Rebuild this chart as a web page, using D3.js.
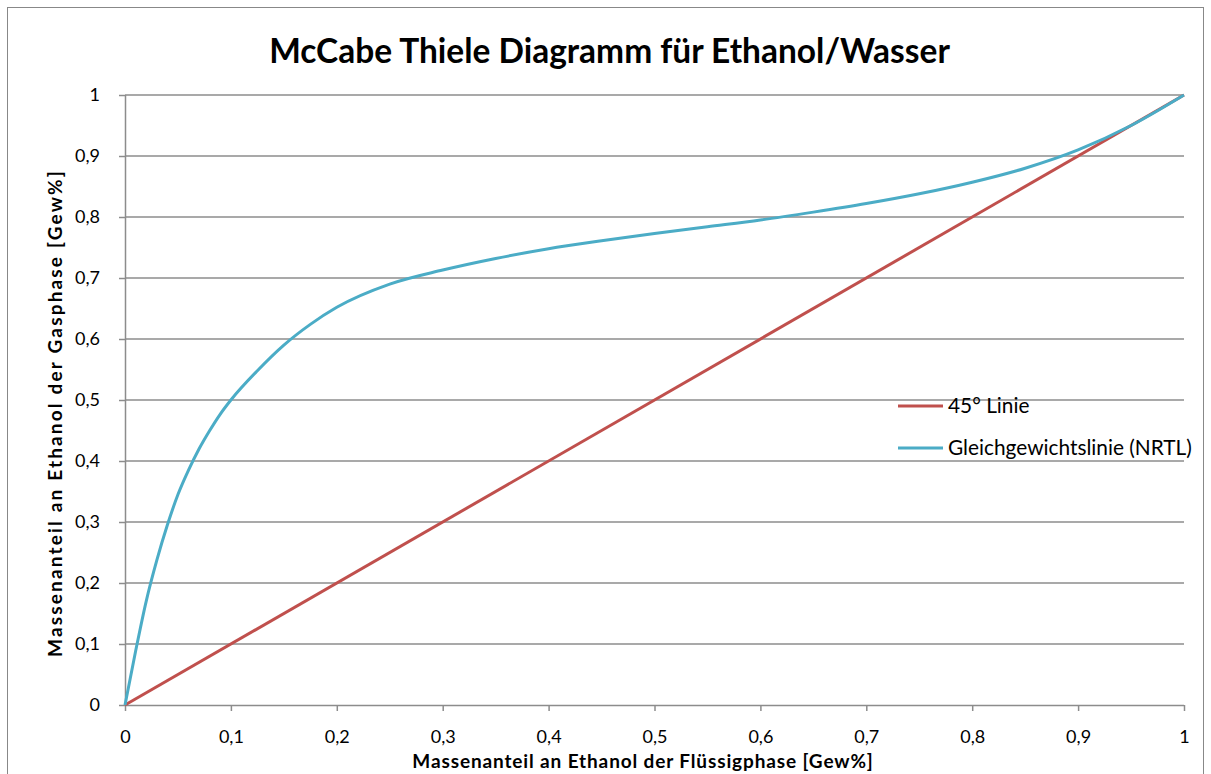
<!DOCTYPE html>
<html><head><meta charset="utf-8">
<script src="https://cdn.jsdelivr.net/npm/d3@7"></script>
<style>body{margin:0;background:#fff;} svg{display:block;} text{font-family:Lato, "Open Sans", sans-serif;}</style>
</head><body>
<svg id="c" width="1211" height="774"></svg>
<script>
const title = "McCabe Thiele Diagramm für Ethanol/Wasser";
const xTitle = "Massenanteil an Ethanol der Flüssigphase  [Gew%]";
const yTitle = "Massenanteil an Ethanol der Gasphase  [Gew%]";
const ticks = [0,0.1,0.2,0.3,0.4,0.5,0.6,0.7,0.8,0.9,1];
const seriesNames = ["45° Linie", "Gleichgewichtslinie (NRTL)"];
const colors = ["#c0504d", "#4bacc6"];
const diagX = [0, 1];
const diagY = [0, 1];
const eqX = [0, 0.01, 0.02, 0.03, 0.04, 0.05, 0.06, 0.07, 0.08, 0.09, 0.1, 0.125, 0.15, 0.175, 0.2, 0.25, 0.3, 0.35, 0.4, 0.45, 0.5, 0.55, 0.6, 0.65, 0.7, 0.75, 0.8, 0.85, 0.9, 0.95, 1];
const eqY = [0, 0.088, 0.17, 0.237, 0.295, 0.345, 0.385, 0.42, 0.45, 0.477, 0.5, 0.548, 0.59, 0.624, 0.652, 0.69, 0.713, 0.732, 0.748, 0.761, 0.773, 0.784, 0.795, 0.808, 0.822, 0.838, 0.857, 0.88, 0.91, 0.95, 1];

const svg = d3.select("#c");
const L = 125, R = 1184, T = 95, B = 705;
const x = d3.scaleLinear().domain([0,1]).range([L,R]);
const y = d3.scaleLinear().domain([0,1]).range([B,T]);
const fmt = d => String(d).replace(".", ",");

svg.append("rect").attr("x",7.5).attr("y",7.5).attr("width",1196).attr("height",780)
  .attr("fill","none").attr("stroke","#888").attr("stroke-width",1);

// gridlines
svg.append("g").selectAll("line").data(ticks.slice(1)).join("line")
  .attr("x1",L).attr("x2",R).attr("y1",d=>y(d)).attr("y2",d=>y(d))
  .attr("stroke","#8c8c8c").attr("stroke-width",1.5);

// axes
const ax = svg.append("g").attr("transform",`translate(0,${B})`)
  .call(d3.axisBottom(x).tickValues(ticks).tickFormat(fmt).tickSize(6).tickPadding(19));
const ay = svg.append("g").attr("transform",`translate(${L},0)`)
  .call(d3.axisLeft(y).tickValues(ticks).tickFormat(fmt).tickSize(6).tickPadding(19));
[ax, ay].forEach(a => {
  a.selectAll("path,line").attr("stroke","#8c8c8c").attr("stroke-width",1.5);
  a.select("path").attr("d", a===ax ? `M${L},0.5H${R}` : `M0.5,${T}V${B}`);
  a.selectAll("text").attr("font-size",18).attr("fill","#000").attr("font-family","Lato");
});

// lines
const line = d3.line().x(d=>x(d[0])).y(d=>y(d[1]));
svg.append("path").datum(diagX.map((v,i)=>[v,diagY[i]]))
  .attr("d", line).attr("fill","none").attr("stroke",colors[0]).attr("stroke-width",3);
svg.append("path").datum(eqX.map((v,i)=>[v,eqY[i]]))
  .attr("d", line.curve(d3.curveMonotoneX)).attr("fill","none").attr("stroke",colors[1]).attr("stroke-width",3);

function fit(sel, target){
  const w = sel.node().getComputedTextLength();
  const fs = +sel.attr("font-size");
  sel.attr("font-size", fs*target/w);
}
function track(sel, target){
  const w = sel.node().getComputedTextLength();
  const n = sel.text().length;
  sel.attr("letter-spacing", Math.max(0, (target - w) / n).toFixed(2));
}

// legend
const lg = svg.append("g");
const legT = [];
[406, 448].forEach((ly,i)=>{
  lg.append("line").attr("x1",898).attr("x2",943).attr("y1",ly).attr("y2",ly)
    .attr("stroke",colors[i]).attr("stroke-width",3);
  legT.push(lg.append("text").attr("x",948).attr("y",ly+7).attr("font-size",17).text(seriesNames[i]));
});
fit(legT[1], 244);
legT[0].attr("font-size", legT[1].attr("font-size"));

const t = svg.append("text").attr("x",609.5).attr("y",63).attr("text-anchor","middle")
  .attr("font-weight","bold").attr("font-size",29).text(title);
fit(t, 681);
const xt = svg.append("text").attr("x",643).attr("y",768).attr("text-anchor","middle")
  .attr("font-weight","bold").attr("font-size",19).text(xTitle);
track(xt, 462);
const yt = svg.append("text").attr("transform","translate(62,413) rotate(-90)").attr("text-anchor","middle")
  .attr("font-weight","bold").attr("font-size",19).text(yTitle);
track(yt, 490);
</script>
</body></html>
